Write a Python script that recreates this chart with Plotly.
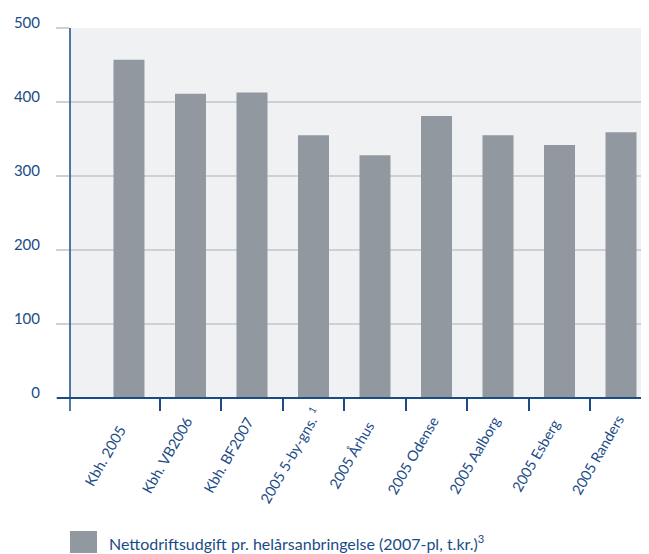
import plotly.graph_objects as go

categories = ["Kbh. 2005", "Kbh. VB2006", "Kbh. BF2007", "2005 5-by-gns. <sup>1</sup>",
              "2005 Århus", "2005 Odense", "2005 Aalborg", "2005 Esberg", "2005 Randers"]
values = [457, 411, 413, 355, 328, 381, 355, 342, 359]
y_ticks = [0, 100, 200, 300, 400, 500]
legend_label = "Nettodriftsudgift pr. helårsanbringelse (2007-pl, t.kr.)<sup>3</sup>"

BLUE = "#1b4b87"
BAR = "#92989f"
GRID = "#cdd0d4"
BG = "#f0f1f3"
FONT = "Lato"

x = list(range(len(categories)))

fig = go.Figure()
fig.add_trace(go.Bar(x=x, y=values, marker=dict(color=BAR, line=dict(width=0)),
                     width=0.504, showlegend=False, hoverinfo="skip"))

# page body has an 8px margin, so the figure is slightly smaller and offset
W, H = 641, 546
ml, mr, mt, mb = 62, 0, 20, 156
pw = W - ml - mr
ph = H - mt - mb

fig.update_layout(
    width=W, height=H,
    margin=dict(l=ml, r=mr, t=mt, b=mb, pad=0),
    paper_bgcolor="white", plot_bgcolor=BG,
    font=dict(family=FONT, color=BLUE, size=14),
    showlegend=False,
    xaxis=dict(
        range=[-0.959, 8.455], tickmode="array", tickvals=x, ticktext=categories,
        showticklabels=False, ticks="", ticklen=0, showgrid=False, zeroline=False,
        showline=False,
        minor=dict(tickmode="array", tickvals=[i + 0.5 for i in range(len(categories) - 1)],
                   ticks="outside", ticklen=12, tickwidth=1.5, tickcolor=BLUE, showgrid=False),
    ),
    yaxis=dict(
        range=[0, 500], tickmode="array", tickvals=y_ticks,
        ticks="outside", ticklen=13, tickwidth=2, tickcolor=GRID,
        showgrid=True, gridcolor=GRID, gridwidth=2, zeroline=False, showline=False,
        tickfont=dict(family=FONT, size=15, color=BLUE),
        ticklabelstandoff=13, ticklabelshift=-5,
    ),
)

# category labels, centred below each category, rotated
for xi, lab in zip(x, categories):
    fig.add_annotation(x=xi, y=0, xref="x", yref="paper", text=lab, textangle=-60,
                       showarrow=False, xanchor="center", yanchor="middle",
                       xshift=-24, yshift=-57,
                       font=dict(family=FONT, size=14.5, color=BLUE))

# axis lines
fig.add_shape(type="line", xref="paper", yref="paper", x0=-13 / pw, x1=1, y0=0, y1=0,
              line=dict(color=BLUE, width=2), layer="above")
fig.add_shape(type="line", xref="paper", yref="paper", x0=0, x1=0, y0=-13 / ph, y1=1,
              line=dict(color=BLUE, width=1.5), layer="above")

# legend
fig.add_shape(type="rect", xref="paper", yref="paper",
              x0=0, x1=27 / pw, y0=(390 - 523) / ph, y1=(390 - 545) / ph,
              fillcolor=BAR, line=dict(width=0))
fig.add_annotation(xref="paper", yref="paper", x=37 / pw, y=(390 - 534) / ph,
                   text=legend_label, showarrow=False, xanchor="left", yanchor="middle",
                   font=dict(family=FONT, size=16, color=BLUE))

fig.write_html("out.html")
